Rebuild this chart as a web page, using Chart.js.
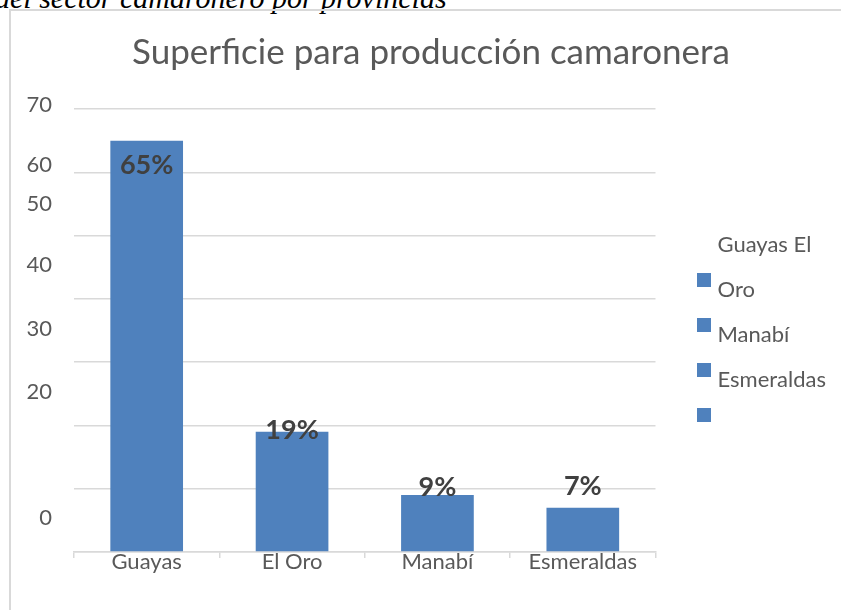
<!DOCTYPE html>
<html>
<head>
<meta charset="utf-8">
<script src="https://cdn.jsdelivr.net/npm/chart.js@4.4.0/dist/chart.umd.min.js"></script>
<style>
  html, body { margin: 0; padding: 0; background: #fff; overflow: hidden; }
  #wrap { position: relative; width: 841px; height: 610px; overflow: hidden; }
  #caption {
    position: absolute; left: -5px; top: -17px; white-space: nowrap;
    font: italic 30px/1 "Liberation Serif", "Times New Roman", serif; color: #000;
  }
  #frame {
    position: absolute; left: 9px; top: 9px; width: 900px; height: 700px;
    border: 2px solid #d9d9d9;
  }
  #chart { position: absolute; left: 0; top: 0; }
</style>
</head>
<body>
<div id="wrap">
  <div id="caption">del sector camaronero por provincias</div>
  <div id="frame"></div>
  <canvas id="chart" width="841" height="610"></canvas>
</div>
<script>
const provincias = ["Guayas", "El Oro", "Manabí", "Esmeraldas"];
const superficie = [65, 19, 9, 7];
const yTickText = ["70", "60", "50", "40", "30", "20", "0"];
const legendText = ["Guayas El", "Oro", "Manabí", "Esmeraldas", ""];

// where the (misplaced) axis labels sit, in axis units
const yTickSpots = [70.7, 61.1, 55.0, 45.3, 35.2, 25.3, 5.4];
const legendHasMark = [false, true, true, true, true];
const labelShift = [25, -1, -8, -21];

const barColor = "#4f81bd";
const textColor = "#595959";
const lineColor = "#d9d9d9";
const font = "Lato";

function legendMark(withSquare) {
  const c = document.createElement("canvas");
  c.width = 37;
  c.height = 34;
  if (withSquare) {
    const g = c.getContext("2d");
    g.fillStyle = barColor;
    g.fillRect(23, 0, 14, 14);
  }
  return c;
}
const marks = legendHasMark.map(legendMark);

const barLabels = {
  id: "barLabels",
  afterDatasetsDraw(chart) {
    const ctx = chart.ctx;
    const bars = chart.getDatasetMeta(0).data;
    ctx.save();
    ctx.font = "bold 27px " + font;
    ctx.fillStyle = "#404040";
    ctx.textAlign = "center";
    ctx.textBaseline = "middle";
    bars.forEach((bar, i) => {
      ctx.fillText(superficie[i] + "%", bar.x, bar.y + labelShift[i]);
    });
    ctx.restore();
  },
};

new Chart(document.getElementById("chart"), {
  type: "bar",
  data: {
    labels: provincias,
    datasets: [
      {
        label: "Superficie",
        data: superficie,
        backgroundColor: barColor,
        categoryPercentage: 1,
        barPercentage: 0.5,
      },
    ],
  },
  options: {
    responsive: false,
    animation: false,
    layout: { padding: { top: 0, left: 26, right: 5, bottom: 28 } },
    scales: {
      x: {
        grid: {
          drawOnChartArea: false,
          drawTicks: true,
          tickLength: 6,
          color: lineColor,
          lineWidth: 1.5,
        },
        border: { color: lineColor, width: 1.5 },
        afterFit(scale) {
          scale.height = 30;
        },
        ticks: {
          color: textColor,
          font: { family: font, size: 22 },
          padding: -9.7,
        },
      },
      y: {
        min: 0,
        max: 70,
        border: { display: false },
        grid: {
          drawTicks: false,
          lineWidth: 1.5,
          color: (c) => (c.tick && yTickSpots.includes(c.tick.value) ? "transparent" : lineColor),
        },
        afterBuildTicks(scale) {
          const all = scale.ticks.concat(yTickSpots.map((v) => ({ value: v })));
          scale.ticks = all.sort((a, b) => a.value - b.value);
        },
        afterFit(scale) {
          scale.width = 48;
        },
        ticks: {
          stepSize: 10,
          autoSkip: false,
          padding: 22,
          color: textColor,
          font: { family: font, size: 22 },
          callback: (v) => {
            const k = yTickSpots.indexOf(v);
            return k < 0 ? "" : yTickText[k];
          },
        },
      },
    },
    plugins: {
      title: {
        display: true,
        text: "Superficie para producción camaronera",
        color: textColor,
        font: { family: font, size: 35, weight: "normal" },
        padding: { top: 32, bottom: 35 },
      },
      legend: {
        position: "right",
        fullSize: false,
        title: { display: true, text: "", font: { size: 5, lineHeight: 1 }, padding: 2 },
        labels: {
          usePointStyle: true,
          pointStyleWidth: 28,
          padding: 23,
          color: textColor,
          font: { family: font, size: 22 },
          generateLabels: () =>
            legendText.map((t, i) => ({
              text: t,
              pointStyle: marks[i],
              fillStyle: barColor,
              strokeStyle: "transparent",
              lineWidth: 0,
              fontColor: textColor,
              hidden: false,
              datasetIndex: 0,
            })),
        },
      },
      tooltip: { enabled: false },
    },
  },
  plugins: [barLabels],
});
</script>
</body>
</html>
